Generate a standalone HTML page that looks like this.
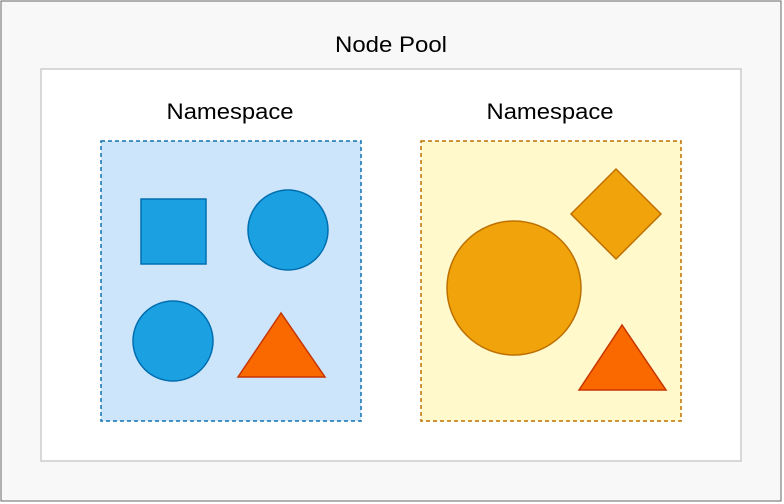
<!DOCTYPE html><html><head><style>body{margin:0;background:#fff}svg{display:block}</style></head><body>
<svg width="784" height="504" xmlns="http://www.w3.org/2000/svg" font-family="Liberation Sans, sans-serif">
<rect x="1" y="1" width="780" height="500" fill="#f8f8f8" stroke="#666" stroke-width="1"/>
<text x="391" y="52" font-size="22" text-anchor="middle" fill="#000" textLength="112" lengthAdjust="spacingAndGlyphs">Node Pool</text>
<rect x="41" y="69" width="700" height="392" fill="#fff" stroke="#ccc" stroke-width="1.5"/>
<text x="230" y="119" font-size="22" text-anchor="middle" textLength="127" lengthAdjust="spacingAndGlyphs">Namespace</text>
<text x="550" y="119" font-size="22" text-anchor="middle" textLength="127" lengthAdjust="spacingAndGlyphs">Namespace</text>
<rect x="101" y="141" width="260" height="280" fill="#cce5fb" stroke="#1170b0" stroke-width="1.5" stroke-dasharray="4 3"/>
<rect x="141" y="199" width="65" height="65" fill="#1ba1e2" stroke="#006eaf" stroke-width="1.5"/>
<circle cx="288" cy="230" r="40" fill="#1ba1e2" stroke="#006eaf" stroke-width="1.5"/>
<circle cx="173" cy="341" r="40" fill="#1ba1e2" stroke="#006eaf" stroke-width="1.5"/>
<polygon points="281,313 238,377 325,377" fill="#fa6800" stroke="#c73500" stroke-width="1.5"/>
<rect x="421" y="141" width="260" height="280" fill="#fff9cc" stroke="#bd7000" stroke-width="1.5" stroke-dasharray="4 3"/>
<circle cx="514" cy="288" r="67" fill="#f0a30a" stroke="#bd7000" stroke-width="1.5"/>
<polygon points="616,169 661,214 616,259 571,214" fill="#f0a30a" stroke="#bd7000" stroke-width="1.5"/>
<polygon points="622,325 579,390 666,390" fill="#fa6800" stroke="#c73500" stroke-width="1.5"/>
</svg></body></html>
